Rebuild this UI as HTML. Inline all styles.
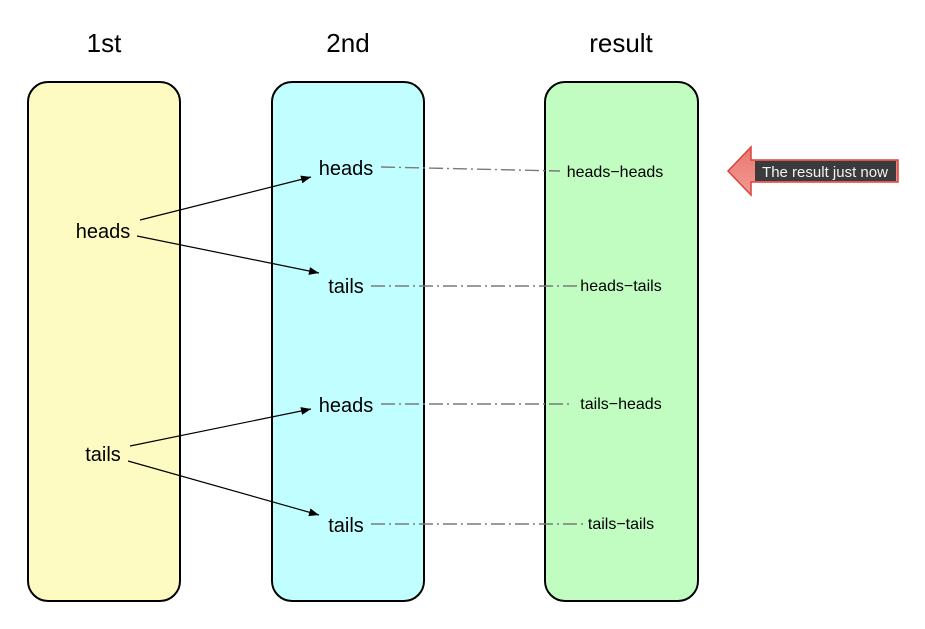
<!DOCTYPE html>
<html><head><meta charset="utf-8"><style>
body{margin:0;background:#fff}
svg{display:block;font-family:"Liberation Sans",sans-serif}
</style></head><body>
<svg width="925" height="629" viewBox="0 0 925 629">
<defs><marker id="ah" markerWidth="10" markerHeight="8" refX="10" refY="4" orient="auto" markerUnits="userSpaceOnUse"><path d="M0,0 L10,4 L0,8 Z" fill="#000"/></marker></defs>
<text x="104" y="52" font-size="26" text-anchor="middle">1st</text>
<text x="348" y="52" font-size="26" text-anchor="middle">2nd</text>
<text x="621" y="52" font-size="26" text-anchor="middle">result</text>
<rect x="28" y="82" width="152" height="519" rx="20" fill="#fdfbc1" stroke="#000" stroke-width="2"/>
<rect x="272" y="82" width="152" height="519" rx="20" fill="#c1feff" stroke="#000" stroke-width="2"/>
<rect x="545" y="82" width="153" height="519" rx="20" fill="#c1fdc0" stroke="#000" stroke-width="2"/>
<g font-size="20" text-anchor="middle">
<text x="103" y="238">heads</text>
<text x="103" y="461">tails</text>
<text x="346" y="175">heads</text>
<text x="346" y="293">tails</text>
<text x="346" y="412">heads</text>
<text x="346" y="532">tails</text>
</g>
<g font-size="16" text-anchor="middle">
<text x="615" y="177">heads−heads</text>
<text x="621" y="291">heads−tails</text>
<text x="621" y="409">tails−heads</text>
<text x="621" y="529">tails−tails</text>
</g>
<g stroke="#000" stroke-width="1.2" marker-end="url(#ah)">
<line x1="140" y1="220" x2="311" y2="177"/>
<line x1="137" y1="236" x2="319" y2="273"/>
<line x1="130" y1="446" x2="311" y2="409"/>
<line x1="128" y1="461" x2="319" y2="515"/>
</g>
<g stroke="#7a7a7a" stroke-width="1.4" stroke-dasharray="14,4,2,4" fill="none">
<line x1="381" y1="167" x2="560" y2="171"/>
<line x1="371" y1="286" x2="577" y2="286"/>
<line x1="381" y1="404" x2="570" y2="404"/>
<line x1="371" y1="524" x2="583" y2="524"/>
</g>
<g>
<defs><linearGradient id="rg" x1="0" y1="0" x2="0" y2="1"><stop offset="0" stop-color="#e97870"/><stop offset="1" stop-color="#f29a92"/></linearGradient></defs>
<path d="M728,171 L751,147 L751,160 L898,160 L898,182 L751,182 L751,195 Z" fill="url(#rg)" stroke="#d9443a" stroke-width="1.5"/>
<rect x="755" y="161" width="141" height="20" fill="#3b3b3d"/>
<text x="825" y="177" font-size="15" fill="#f2f2f2" text-anchor="middle">The result just now</text>
</g>
</svg>
</body></html>
